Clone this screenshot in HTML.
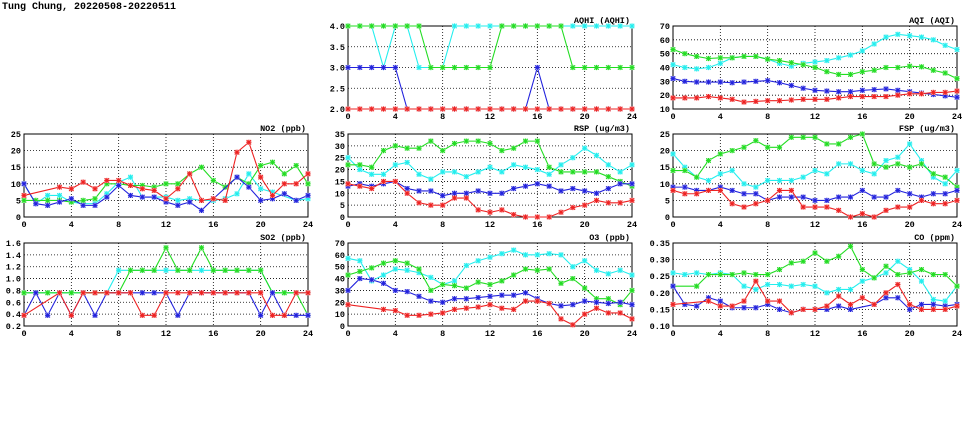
<!DOCTYPE html>
<html><head><meta charset="utf-8"><style>
body{margin:0;background:#fff;width:975px;height:447px;overflow:hidden}
svg{display:block;font-family:"Liberation Mono","DejaVu Sans Mono",monospace}
</style></head><body>
<svg id="chart" width="975" height="447" viewBox="0 0 975 447">
<text x="2" y="9" font-size="10" font-weight="bold" fill="#000">Tung Chung, 20220508-20220511</text>
</svg>
<script>
const hours=[0,1,2,3,4,5,6,7,8,9,10,11,12,13,14,15,16,17,18,19,20,21,22,23,24];
const seriesNames=["cyan","green","blue","red"];
const n=null;
// AQHI
const aqhiCyan=[4,4,4,3,4,4,3,3,3,4,4,4,4,4,4,4,4,4,4,4,4,4,4,4,4];
const aqhiGreen=[4,4,4,4,4,4,4,3,3,3,3,3,3,4,4,4,4,4,4,3,3,3,3,3,3];
const aqhiBlue=[3,3,3,3,3,2,2,2,2,2,2,2,2,2,2,2,3,2,2,2,2,2,2,2,2];
const aqhiRed=[2,2,2,2,2,2,2,2,2,2,2,2,2,2,2,2,2,2,2,2,2,2,2,2,2];
// AQI
const aqiCyan=[42,40,39,40,43,47,48,48,46,43,41,43,44,45,47,49,52,57,62,64,63,62,60,56,53];
const aqiGreen=[53,50,48,46.5,47,47,48,48,46,45,43.5,42,40,37,35,35,37,38,40,40,41,40.5,38,36,32];
const aqiBlue=[32,30,29.5,29.5,29.5,29,29.5,30,30.5,29,27,25,23.5,23,22.5,22.5,23.5,24,24.5,23.5,22.5,21.5,20.5,19.5,18.5];
const aqiRed=[18,18,18,19,18,17,15,15.5,16,16,16.5,17,17,17,18,19,19,19,19,20,21,21,22,22,23];
// NO2
const no2Cyan=[10,4,6.5,6.5,4.5,4,4,7,10.5,12,6,6,6,5,5.5,5,5,5.5,7,13,8.5,7.5,n,5,5.5];
const no2Green=[5,5,5,5,4.5,5,5.5,10,10,9.5,9.5,9,10,10,13,15,11,9,12,10,15.5,16.5,13,15.5,10];
const no2Blue=[10,4,3.5,4.5,5.5,3.5,3.5,6,9.5,6.5,6,6,4.5,3.5,4.5,2,5.5,n,12,9,5,5.5,7,5,6.5];
const no2Red=[6.5,n,n,9,8.5,10.5,8.5,11,11,9.5,8.5,8,5.5,8.5,13,5,5.5,5,19.5,22.5,12,6.5,10,10,13];
// SO2
const so2Cyan=[.76,.76,.76,.76,.76,.76,.76,.76,1.14,1.14,1.14,1.14,1.14,1.14,1.14,1.14,1.14,1.14,1.14,1.14,1.14,.76,.76,.76,.76];
const so2Green=[.76,.76,.76,.76,.76,.76,.76,.76,.76,1.14,1.14,1.14,1.52,1.14,1.14,1.52,1.14,1.14,1.14,1.14,1.14,.76,.76,.76,.38];
const so2Blue=[.38,.76,.38,.76,.38,.76,.38,.76,.76,.76,.76,.76,.76,.38,.76,.76,.76,.76,.76,.76,.38,.76,.38,.38,.38];
const so2Red=[.38,n,n,.76,.38,.76,.76,.76,.76,.76,.38,.38,.76,.76,.76,.76,.76,.76,.76,.76,.76,.38,.38,.76,.76];
// RSP
const rspCyan=[25,20,18,18,22,23,18,16,19,19,17,19,21,19,22,21,20,18,22,25,29,26,22,19,22];
const rspGreen=[22,22,21,28,30,29,29,32,28,31,32,32,31,28,29,32,32,21,19,19,19,19,17,15,13];
const rspBlue=[13,14,13,14,15,12,11,11,9,10,10,11,10,10,12,13,14,13,11,12,11,10,12,14,14];
const rspRed=[14,13,12,15,15,10,6,5,5,8,8,3,2,3,1,0,0,0,2,4,5,7,6,6,7];
// FSP
const fspCyan=[19,15,12,11,13,14,10,9,11,11,11,12,14,13,16,16,14,13,17,18,22,17,12,10,14];
const fspGreen=[14,14,12,17,19,20,21,23,21,21,24,24,24,22,22,24,25,16,15,16,15,16,13,12,9];
const fspBlue=[9,9,8,8,9,8,7,7,5,6,6,6,5,5,6,6,8,6,6,8,7,6,7,7,8];
const fspRed=[8,7,7,8,8,4,3,4,5,8,8,3,3,3,2,0,1,0,2,3,3,5,4,4,5];
// O3
const o3Cyan=[57,55,38,43,48,47,45,41,35,38,51,55,58,61,64,60,60,61,60,50,55,47,44,47,43];
const o3Green=[43,46,49,53,55,53,48,30,35,34,32,37,35,38,43,48,47,48,36,40,32,23,23,18,30];
const o3Blue=[30,40,39,36,30,29,25,21,20,23,23,24,25,26,26,28,23,19,17,18,21,20,19,20,18];
const o3Red=[18,n,n,14,13,9,9,10,11,14,15,16,18,15,14,21,21,19,6,1,10,15,11,11,6];
// CO
const coCyan=[.26,.255,.26,.255,.26,.255,.22,.21,.225,.225,.22,.225,.22,.2,.21,.21,.235,.245,.26,.295,.27,.235,.18,.175,.22];
const coGreen=[.22,n,.22,.255,.255,.255,.26,.255,.255,.27,.29,.295,.32,.295,.31,.34,.27,.245,.28,.255,.26,.27,.255,.255,.22];
const coBlue=[.22,.165,.16,.185,.175,.155,.155,.155,.165,.15,.14,.15,.15,.15,.16,.15,n,.165,.185,.185,.15,.165,.165,.16,.165];
const coRed=[.165,n,n,.175,.16,.16,.175,.235,.175,.175,.14,.15,.15,.16,.19,.165,.185,.165,.2,.225,.165,.15,.15,.15,.16];

const xTicks=[0,4,8,12,16,20,24];
const colors={cyan:"#22eeee",green:"#22dd22",blue:"#2222dd",red:"#ee2222"};
const pale={cyan:"#c4f8f8",green:"#c4f0c4",blue:"#c4c4f0",red:"#f6c4c4"};
const NS="http://www.w3.org/2000/svg";
const svg=document.getElementById("chart");
function mk(tag,attrs,parent){const e=document.createElementNS(NS,tag);for(const k in attrs)e.setAttribute(k,attrs[k]);(parent||svg).appendChild(e);return e;}

const panels=[
 {id:"aqhi",title:"AQHI (AQHI)",x0:348,y0:26,min:2,max:4,step:0.5,dec:1,data:[aqhiCyan,aqhiGreen,aqhiBlue,aqhiRed]},
 {id:"aqi",title:"AQI (AQI)",x0:673,y0:26,min:10,max:70,step:10,dec:0,data:[aqiCyan,aqiGreen,aqiBlue,aqiRed]},
 {id:"no2",title:"NO2 (ppb)",x0:24,y0:134,min:0,max:25,step:5,dec:0,data:[no2Cyan,no2Green,no2Blue,no2Red]},
 {id:"rsp",title:"RSP (ug/m3)",x0:348,y0:134,min:0,max:35,step:5,dec:0,data:[rspCyan,rspGreen,rspBlue,rspRed]},
 {id:"fsp",title:"FSP (ug/m3)",x0:673,y0:134,min:0,max:25,step:5,dec:0,data:[fspCyan,fspGreen,fspBlue,fspRed]},
 {id:"so2",title:"SO2 (ppb)",x0:24,y0:243,min:0.2,max:1.6,step:0.2,dec:1,data:[so2Cyan,so2Green,so2Blue,so2Red]},
 {id:"o3",title:"O3 (ppb)",x0:348,y0:243,min:0,max:70,step:10,dec:0,data:[o3Cyan,o3Green,o3Blue,o3Red]},
 {id:"co",title:"CO (ppm)",x0:673,y0:243,min:0.1,max:0.35,step:0.05,dec:2,data:[coCyan,coGreen,coBlue,coRed]}
];
const W=284,H=83;

panels.forEach(p=>{
 const g=mk("g",{});
 
 
 const xs=h=>p.x0+h/24*W;
 const ys=v=>p.y0+H-(v-p.min)/(p.max-p.min)*H;
 const nT=Math.round((p.max-p.min)/p.step);
 for(let i=0;i<=nT;i++){
  const v=p.min+i*p.step,y=ys(v);
  if(i>0&&i<nT){const gl=mk("line",{x1:p.x0,x2:p.x0+W,y1:y,y2:y,stroke:"#000","stroke-width":0.8,"stroke-dasharray":"1,2"},g);
   
   }
  const t=mk("text",{x:p.x0-3,y:y+3,"font-size":8.5,"font-weight":"bold","text-anchor":"end"},g);
  t.textContent=v.toFixed(p.dec);
  
  
 }
 xTicks.forEach(h=>{
  const x=xs(h);
  if(h>0&&h<24){const gl=mk("line",{x1:x,x2:x,y1:p.y0,y2:p.y0+H,stroke:"#000","stroke-width":0.8,"stroke-dasharray":"1,2"},g);
   
   }
  const t=mk("text",{x:x,y:p.y0+H+10,"font-size":8.5,"font-weight":"bold","text-anchor":"middle"},g);
  t.textContent=h;
  
  
 });
 const fr=mk("rect",{x:p.x0,y:p.y0,width:W,height:H,fill:"none",stroke:"#000","stroke-width":1},g);
 
 
 const tt=mk("text",{x:p.x0+W-2,y:p.y0-3,"font-size":8.5,"font-weight":"bold","text-anchor":"end"},g);
 tt.textContent=p.title;
 
 
 p.data.forEach((arr,si)=>{
  const c=seriesNames[si];
  const pts=[];
  arr.forEach((v,i)=>{if(v!==null)pts.push([xs(hours[i]),ys(v)]);});
  const pl=mk("polyline",{points:pts.map(q=>q.join(",")).join(" "),fill:"none",stroke:colors[c],"stroke-width":1.1},g);
  
  
  pts.forEach(q=>{
   const m=mk("g",{},g);
   
   
   mk("rect",{x:q[0]-2.5,y:q[1]-2.5,width:5,height:5,fill:pale[c]},m);
   const s=2.2;
   mk("path",{d:`M${q[0]-s},${q[1]-s}L${q[0]+s},${q[1]+s}M${q[0]-s},${q[1]+s}L${q[0]+s},${q[1]-s}M${q[0]},${q[1]-s-0.4}L${q[0]},${q[1]+s+0.4}M${q[0]-s-0.4},${q[1]}L${q[0]+s+0.4},${q[1]}`,stroke:colors[c],"stroke-width":1},m);
  });
 });
});
</script>
</body></html>
